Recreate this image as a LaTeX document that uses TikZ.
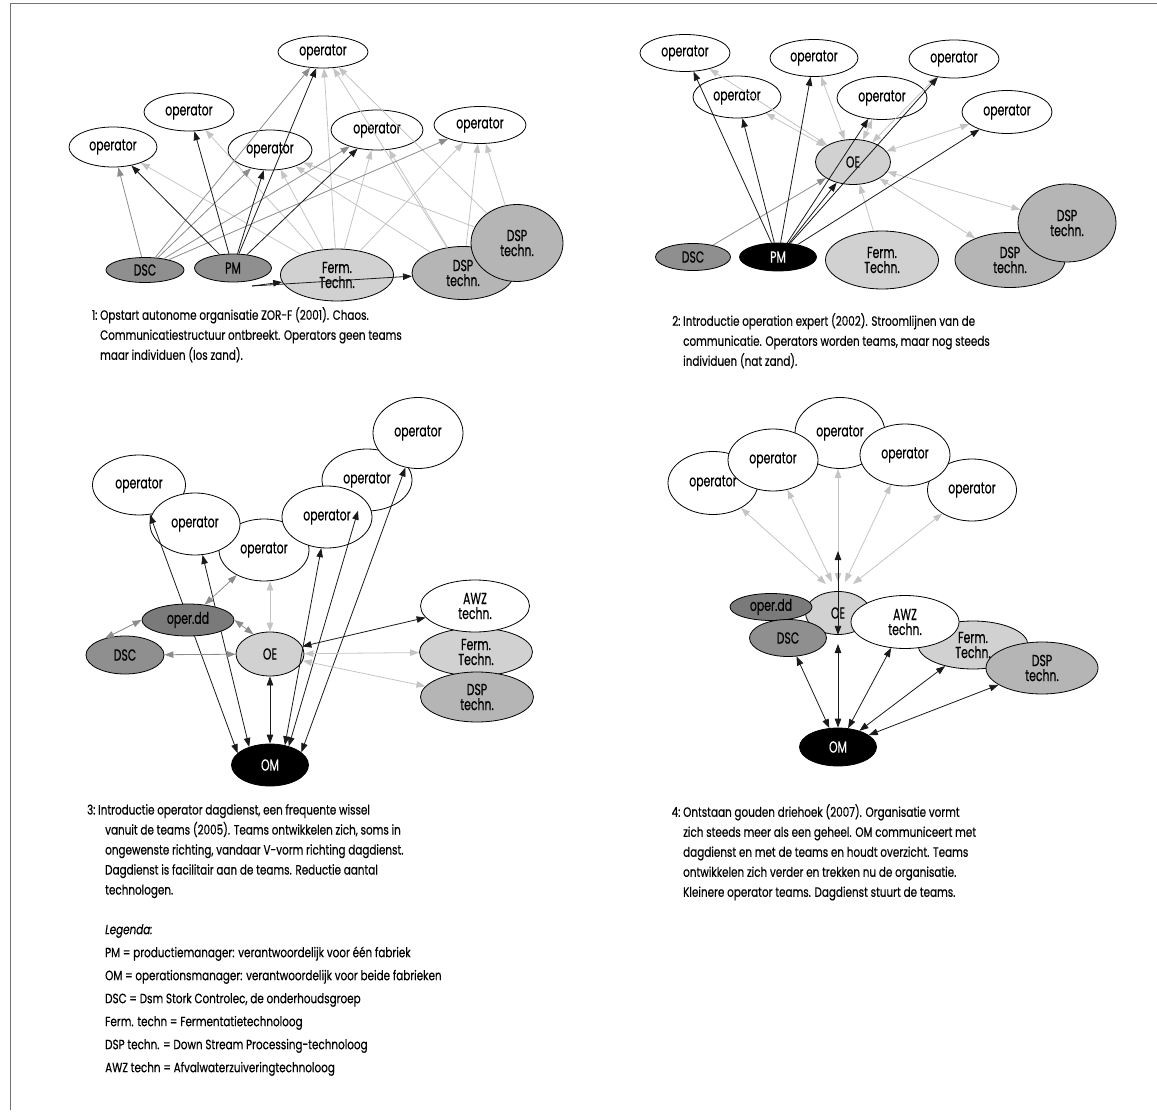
\documentclass[tikz,border=0pt]{standalone}
\usepackage{fontspec}
\setmainfont{Poppins}[FakeStretch=0.77,FakeBold=0.4]
\newfontfamily\nodeface{Poppins}[FakeStretch=0.68,FakeBold=0.4]
\usetikzlibrary{shapes.geometric,arrows.meta}
\definecolor{ddgray}{gray}{0.48}
\definecolor{dkgray}{gray}{0.56}
\definecolor{mdgray}{gray}{0.71}
\definecolor{ltgray}{gray}{0.82}
\definecolor{dkline}{gray}{0.1}
\definecolor{mdline}{gray}{0.55}
\definecolor{ltline}{gray}{0.77}
\newcommand\nodefont{\nodeface\fontsize{16}{15}\selectfont}
\newcommand\capfont{\fontsize{13.5}{20}\selectfont}
\begin{document}
\begin{tikzpicture}[x=1pt,y=-1pt,
  >={Triangle[length=9pt,width=6.5pt]},
  blob/.style={ellipse,draw,line width=0.8pt,inner sep=0pt,align=center,font=\nodefont},
  sz/.style 2 args={minimum width=#1pt,minimum height=#2pt},
  op/.style={blob,fill=white},
  darkline/.style={draw=dkline,line width=0.8pt},
  midline/.style={draw=mdline,line width=0.8pt},
  lightline/.style={draw=ltline,line width=0.8pt},
  caption/.style={anchor=north west,inner sep=0pt,align=left,font=\capfont}]
\useasboundingbox (0,0) rectangle (1157,1115);
\draw[black!55,line width=1pt] (10.5,1110) -- (10.5,3.5) -- (1157,3.5);

% 1
\node[op,sz={90}{32}] (a1) at (323,52) {operator};
\node[op,sz={90}{38}] (a2) at (189,112) {operator};
\node[op,sz={88}{40}] (a3) at (113,147) {operator};
\node[op,sz={84}{40}] (a4) at (270,150) {operator};
\node[op,sz={92}{40}] (a5) at (377,130) {operator};
\node[op,sz={92}{37}] (a6) at (480,125) {operator};
\node[blob,fill=dkgray,sz={78}{25}] (dsc1) at (145,270) {DSC};
\node[blob,fill=dkgray,sz={77}{28}] (pm1) at (233,268) {PM};
\node[blob,fill=ltgray,sz={113}{52}] (ferm1) at (337,275) {Ferm.\\Techn.};
\node[blob,fill=mdgray,sz={102}{53}] (dspa1) at (463,273) {DSP\\techn.};
\node[blob,fill=mdgray,sz={92}{77}] (dspb1) at (517,243) {DSP\\techn.};
\foreach \t in {a3,a2,a1,a4,a5,a6} \draw[lightline,->] (ferm1) -- (\t);
\foreach \t in {a1,a4,a5,a6} \draw[lightline,->] (dspa1) -- (\t);
\foreach \t in {a1,a4,a6} \draw[lightline,->] (dspb1) -- (\t);
\foreach \t in {a3,a1,a4,a5,a6} \draw[midline,->] (dsc1) -- (\t);
\foreach \t in {a3,a2,a1,a4,a5} \draw[darkline,->] (pm1) -- (\t);
\coordinate (pmfoot) at (252,286);
\draw[darkline,->] (pmfoot) -- (ferm1);
\draw[darkline,->] (pmfoot) -- (dspa1);
\node[caption] (cap1) at (100,307) {\llap{1:\ }Opstart autonome organisatie ZOR-F (2001). Chaos.\\
  Communicatiestructuur ontbreekt. Operators geen teams\\maar individuen (los zand).};

% 2
\node[op,sz={90}{37}] (b1) at (685,53) {operator};
\node[op,sz={88}{42}] (b2) at (737,97) {operator};
\node[op,sz={88}{37}] (b3) at (814,58) {operator};
\node[op,sz={90}{43}] (b4) at (882,98) {operator};
\node[op,sz={90}{38}] (b5) at (954,59) {operator};
\node[op,sz={90}{43}] (b6) at (1007,112) {operator};
\node[blob,fill=ltgray,sz={75}{45}] (oe2) at (853,162) {OE};
\node[blob,fill=dkgray,sz={75}{27}] (dsc2) at (693,257) {DSC};
\node[blob,fill=black,text=white,sz={77}{28}] (pm2) at (778,257) {PM};
\node[blob,fill=ltgray,sz={113}{58}] (ferm2) at (882,260) {Ferm.\\Techn.};
\node[blob,fill=mdgray,sz={110}{55}] (dspa2) at (1010,260) {DSP\\techn.};
\node[blob,fill=mdgray,sz={98}{78}] (dspb2) at (1067,223) {DSP\\techn.};
\foreach \t in {b1,b2,b3,b4,b5,b6,dspb2,dspa2} \draw[lightline,<->] (oe2) -- (\t);
\draw[lightline,->] (ferm2) -- (oe2);
\draw[midline,->] (dsc2) -- (oe2);
\foreach \t in {b1,b2,b3,b4,b5,b6,oe2} \draw[darkline,->] (pm2) -- (\t);
\node[caption] (cap2) at (683,313) {\llap{2:\ }Introductie operation expert (2002). Stroomlijnen van de\\
  communicatie. Operators worden teams, maar nog steeds\\individuen (nat zand).};

% 3
\node[op,sz={93}{60}] (c1) at (139,485) {operator};
\node[op,sz={90}{62}] (c3) at (264,550) {operator};
\node[op,sz={90}{62}] (c5) at (367,480) {operator};
\node[op,sz={90}{62}] (c2) at (195,524) {operator};
\node[op,sz={90}{62}] (c4) at (327,517) {operator};
\node[op,sz={90}{71}] (c6) at (418,433) {operator};
\node[blob,fill=dkgray,sz={78}{38}] (dsc3) at (125,655) {DSC};
\node[blob,fill=ltgray,sz={68}{44}] (oe3) at (270,654) {OE};
\node[blob,fill=ltgray,sz={113}{48}] (ferm3) at (476,652) {Ferm.\\Techn.};
\node[blob,fill=white,sz={109}{52}] (awz3) at (475,606) {AWZ\\techn.};
\node[blob,fill=mdgray,sz={113}{50}] (dsp3) at (477,697) {DSP\\techn.};
\node[blob,fill=black,text=white,sz={77}{42}] (om3) at (270,765) {OM};
\foreach \t/\a in {c1/160,c2/139,c4/53,c5/45,c6/22} \draw[darkline,<->] (\t) -- (om3.\a);
\draw[darkline,<->] (oe3) -- (om3);
\draw[darkline,<->] (oe3) -- (awz3);
\draw[lightline,<->] (oe3) -- (ferm3);
\draw[lightline,<->] (oe3) -- (dsp3);
\draw[lightline,<->] (oe3.north) -- (oe3.north |- c3.south);
\node[blob,fill=ddgray,sz={92}{32}] (dd3) at (188,620) {oper.dd};
\draw[midline,<->] (dsc3) -- (oe3);
\draw[midline,<->] (dsc3.140) -- (dd3.west);
\draw[midline,<->] (dd3.east) -- (oe3.130);
\draw[midline,<->] (dd3) -- (c3);
\node[caption] (cap3) at (105,804) {\hspace*{-7pt}\llap{3:\ }Introductie operator dagdienst, een frequente wissel\\
  vanuit de teams (2005). Teams ontwikkelen zich, soms in\\
  ongewenste richting, vandaar V-vorm richting dagdienst.\\
  Dagdienst is facilitair aan de teams. Reductie aantal\\technologen.};
\node[caption,font={\fontsize{13.5}{23}\selectfont}] (legend) at (105,924) {\textit{Legenda:}\\
  PM = productiemanager: verantwoordelijk voor één fabriek\\
  OM = operationsmanager: verantwoordelijk voor beide fabrieken\\
  DSC = Dsm Stork Controlec, de onderhoudsgroep\\
  Ferm. techn = Fermentatietechnoloog\\
  DSP techn. = Down Stream Processing-technoloog\\
  AWZ techn = Afvalwaterzuiveringtechnoloog};

% 4
\node[op,sz={90}{63}] (d1) at (713,483) {operator};
\node[op,sz={90}{71}] (d3) at (840,433) {operator};
\node[op,sz={89}{62}] (d5) at (972,490) {operator};
\node[op,sz={90}{62}] (d2) at (773,460) {operator};
\node[op,sz={90}{62}] (d4) at (905,455) {operator};
\node[blob,fill=ltgray,sz={65}{43}] (oe4) at (838,613) {OE};
\node[blob,fill=ddgray,sz={82}{27}] (dd4) at (771,607) {oper.dd};
\node[blob,fill=dkgray,sz={77}{37}] (dsc4) at (788,638) {DSC};
\node[blob,fill=ltgray,sz={110}{48}] (ferm4) at (973,645) {Ferm.\\Techn.};
\node[blob,fill=white,sz={108}{53}] (awz4) at (905,622) {AWZ\\techn.};
\node[blob,fill=mdgray,sz={112}{52}] (dsp4) at (1042,668) {DSP\\techn.};
\node[blob,fill=black,text=white,sz={77}{38}] (om4) at (838,747) {OM};
\coordinate (up1) at (826,584);
\coordinate (up2) at (832,582);
\coordinate (up3) at (838,582);
\coordinate (up4) at (845,582);
\coordinate (up5) at (853,584);
\foreach \t/\c in {d1/up1,d2/up2,d4/up4,d5/up5} \draw[lightline,<->] (\c) -- (\t);
\draw[lightline,<->] (up3) -- (up3 |- d3.south);
\coordinate (oetop) at (838,551);
\coordinate (oefoot) at (838,644);
\draw[darkline,<->] (oe4.south) -- (oetop);
\draw[darkline,<->] (oefoot) -- (om4);
\foreach \t in {dsc4,awz4,ferm4,dsp4} \draw[darkline,<->] (\t) -- (om4);
\node[caption] (cap4) at (683,804) {\llap{4:\ }Ontstaan gouden driehoek (2007). Organisatie vormt\\
  zich steeds meer als een geheel. OM communiceert met\\
  dagdienst en met de teams en houdt overzicht. Teams\\
  ontwikkelen zich verder en trekken nu de organisatie.\\
  Kleinere operator teams. Dagdienst stuurt de teams.};
\end{tikzpicture}
\end{document}
